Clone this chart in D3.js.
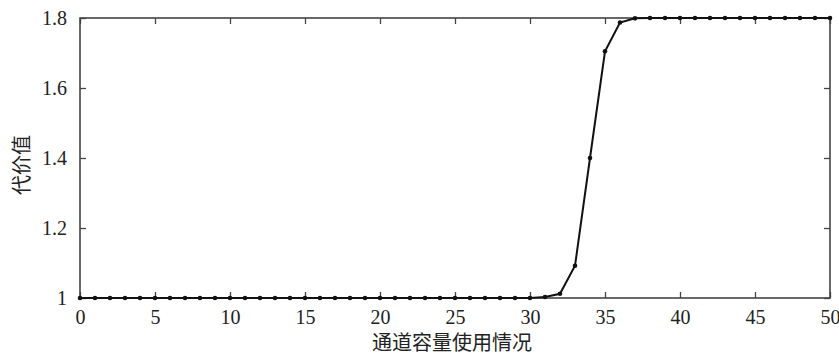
<!DOCTYPE html>
<html>
<head>
<meta charset="utf-8">
<script src="https://cdn.jsdelivr.net/npm/d3@7"></script>
<style>
  body { margin: 0; background: #fff; }
</style>
</head>
<body>
<div id="chart"></div>
<script>
// channel usage (x) and cost value (y)
var usage = [0, 1, 2, 3, 4, 5, 6, 7, 8, 9, 10, 11, 12, 13, 14, 15, 16, 17, 18, 19, 20,
  21, 22, 23, 24, 25, 26, 27, 28, 29, 30, 31, 32, 33, 34, 35, 36, 37, 38, 39, 40,
  41, 42, 43, 44, 45, 46, 47, 48, 49, 50];
var cost = [1, 1, 1, 1, 1, 1, 1, 1, 1, 1, 1, 1, 1, 1, 1, 1, 1, 1, 1, 1, 1,
  1, 1, 1, 1, 1, 1, 1, 1, 1, 1, 1.003, 1.012, 1.092, 1.4, 1.705, 1.787, 1.799, 1.8, 1.8, 1.8,
  1.8, 1.8, 1.8, 1.8, 1.8, 1.8, 1.8, 1.8, 1.8, 1.8];
var xTicks = [0, 5, 10, 15, 20, 25, 30, 35, 40, 45, 50];
var yTicks = [1, 1.2, 1.4, 1.6, 1.8];
var yTickLabels = ["1", "1.2", "1.4", "1.6", "1.8"];

var svgWidth = 839;
var svgHeight = 355;
var margin = { top: 18, right: 9, bottom: 57, left: 80 };
var width = svgWidth - margin.left - margin.right;
var height = svgHeight - margin.top - margin.bottom;

var svg = d3.select("#chart")
  .append("svg")
  .attr("width", svgWidth)
  .attr("height", svgHeight);

var chartGroup = svg.append("g")
  .attr("transform", `translate(${margin.left}, ${margin.top})`);

var x = d3.scaleLinear().domain([0, 50]).range([0, width]);
var y = d3.scaleLinear().domain([1, 1.8]).range([height, 0]);

var data = usage.map((u, i) => ({ u: u, c: cost[i] }));

var serif = "Liberation Serif, Times New Roman, DejaVu Serif, serif";

// axes: ticks point inward, on all four sides
function styleAxis(g) {
  g.attr("font-family", serif).attr("font-size", 20);
  g.select(".domain").remove();
  g.selectAll(".tick line").attr("stroke", "#444").attr("stroke-width", 1.3);
  g.selectAll(".tick text").attr("fill", "#222");
}

chartGroup.append("g")
  .attr("transform", `translate(0, ${height})`)
  .call(d3.axisBottom(x).tickValues(xTicks).tickSizeInner(-6).tickPadding(12).tickFormat(d3.format("d")))
  .call(styleAxis);

chartGroup.append("g")
  .call(d3.axisTop(x).tickValues(xTicks).tickSizeInner(-6).tickFormat(""))
  .call(styleAxis);

chartGroup.append("g")
  .call(d3.axisLeft(y).tickValues(yTicks).tickSizeInner(-6).tickPadding(13)
    .tickFormat((d, i) => yTickLabels[i]))
  .call(styleAxis);

chartGroup.append("g")
  .attr("transform", `translate(${width}, 0)`)
  .call(d3.axisRight(y).tickValues(yTicks).tickSizeInner(-6).tickFormat(""))
  .call(styleAxis);

// frame
chartGroup.append("rect")
  .attr("x", 0).attr("y", 0)
  .attr("width", width).attr("height", height)
  .attr("fill", "none")
  .attr("stroke", "#444")
  .attr("stroke-width", 1.6);

// line
var line = d3.line().x(d => x(d.u)).y(d => y(d.c));
chartGroup.append("path")
  .datum(data)
  .attr("d", line)
  .attr("fill", "none")
  .attr("stroke", "#111")
  .attr("stroke-width", 2);

// markers
chartGroup.selectAll("circle")
  .data(data)
  .enter()
  .append("circle")
  .attr("cx", d => x(d.u))
  .attr("cy", d => y(d.c))
  .attr("r", 2.3)
  .attr("fill", "#111");

// axis labels
chartGroup.append("text")
  .attr("transform", `translate(${-58}, ${height / 2 + 7}) rotate(-90)`)
  .attr("text-anchor", "middle")
  .attr("dy", "0.35em")
  .attr("font-family", "Noto Sans CJK SC, sans-serif")
  .attr("font-size", 20)
  .attr("fill", "#222")
  .text("代价值");

chartGroup.append("text")
  .attr("x", 452 - margin.left)
  .attr("y", height + 52)
  .attr("text-anchor", "middle")
  .attr("font-family", "Noto Sans CJK SC, sans-serif")
  .attr("font-size", 20)
  .attr("fill", "#222")
  .text("通道容量使用情况");
</script>
</body>
</html>
